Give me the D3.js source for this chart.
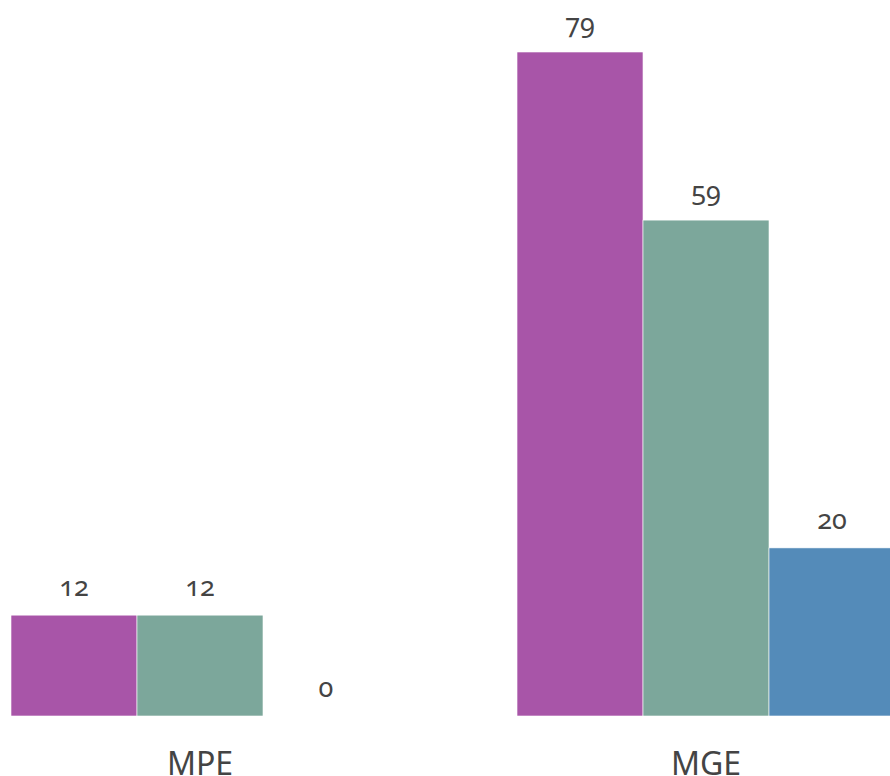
<!DOCTYPE html>
<html>
<head>
<meta charset="utf-8">
<script src="https://cdn.jsdelivr.net/npm/d3@7"></script>
<style>
  html, body { margin: 0; padding: 0; background: #fff; }
  .canvas svg { display: block; }
  text { font-family: "Noto Sans", "Open Sans", sans-serif; fill: #444; font-variant-numeric: oldstyle-nums; }
</style>
</head>
<body>
<div class="canvas"></div>
<script>
// data
const groups = ['MPE', 'MGE'];
const seriesNames = ['s1', 's2', 's3'];
const mpeValues = [12, 12, 0];
const mgeValues = [79, 59, 20];
const colors = ['#a855a8', '#7ca79b', '#548bb9'];

const data = groups.map((g, i) => ({
    group: g,
    values: (i === 0 ? mpeValues : mgeValues).map((v, j) => ({ key: seriesNames[j], value: v }))
}));

// dimensions
const width = 890;
const height = 776;
const margin = {top: 52, bottom: 60, left: 11};
const graphHeight = height - margin.top - margin.bottom;

const svg = d3.select('.canvas')
.append('svg')
.attr('width', width)
.attr('height', height);

const graph = svg.append('g')
.attr('transform', `translate(0,${margin.top})`);

// scales
const x0 = d3.scaleBand()
.domain(groups)
.range([margin.left, margin.left + 884])
.paddingInner(0.253)
.paddingOuter(0);

const x1 = d3.scaleBand()
.domain(seriesNames)
.range([0, x0.bandwidth()]);

const y = d3.scaleLinear()
.domain([0, d3.max(mgeValues)])
.range([graphHeight, 0]);

const color = d3.scaleOrdinal()
.domain(seriesNames)
.range(colors);

// bars
const groupG = graph.selectAll('g.group')
.data(data)
.enter()
.append('g')
.attr('class', 'group')
.attr('transform', d => `translate(${x0(d.group)},0)`);

groupG.selectAll('rect')
.data(d => d.values)
.enter()
.append('rect')
.attr('x', d => x1(d.key))
.attr('y', d => y(d.value))
.attr('width', x1.bandwidth())
.attr('height', d => graphHeight - y(d.value))
.attr('fill', d => color(d.key))
.attr('stroke', '#fff')
.attr('stroke-width', 0.6);

// value labels
groupG.selectAll('text.value')
.data(d => d.values)
.enter()
.append('text')
.attr('class', 'value')
.attr('x', d => x1(d.key) + x1.bandwidth() / 2)
.attr('y', d => y(d.value) - 19)
.attr('text-anchor', 'middle')
.style('font-size', '27px')
.text(d => d.value);

// x axis labels
const xAxis = d3.axisBottom(x0).tickSize(0).tickPadding(0);
const xAxisGroup = graph.append('g')
.attr('transform', `translate(0,${graphHeight})`)
.call(xAxis);

xAxisGroup.select('.domain').remove();
xAxisGroup.selectAll('text')
.attr('dy', null)
.attr('y', 59)
.style('font-size', '32px')
.style('font-family', '"Noto Sans", "Open Sans", sans-serif')
.attr('fill', '#444');
</script>
</body>
</html>
